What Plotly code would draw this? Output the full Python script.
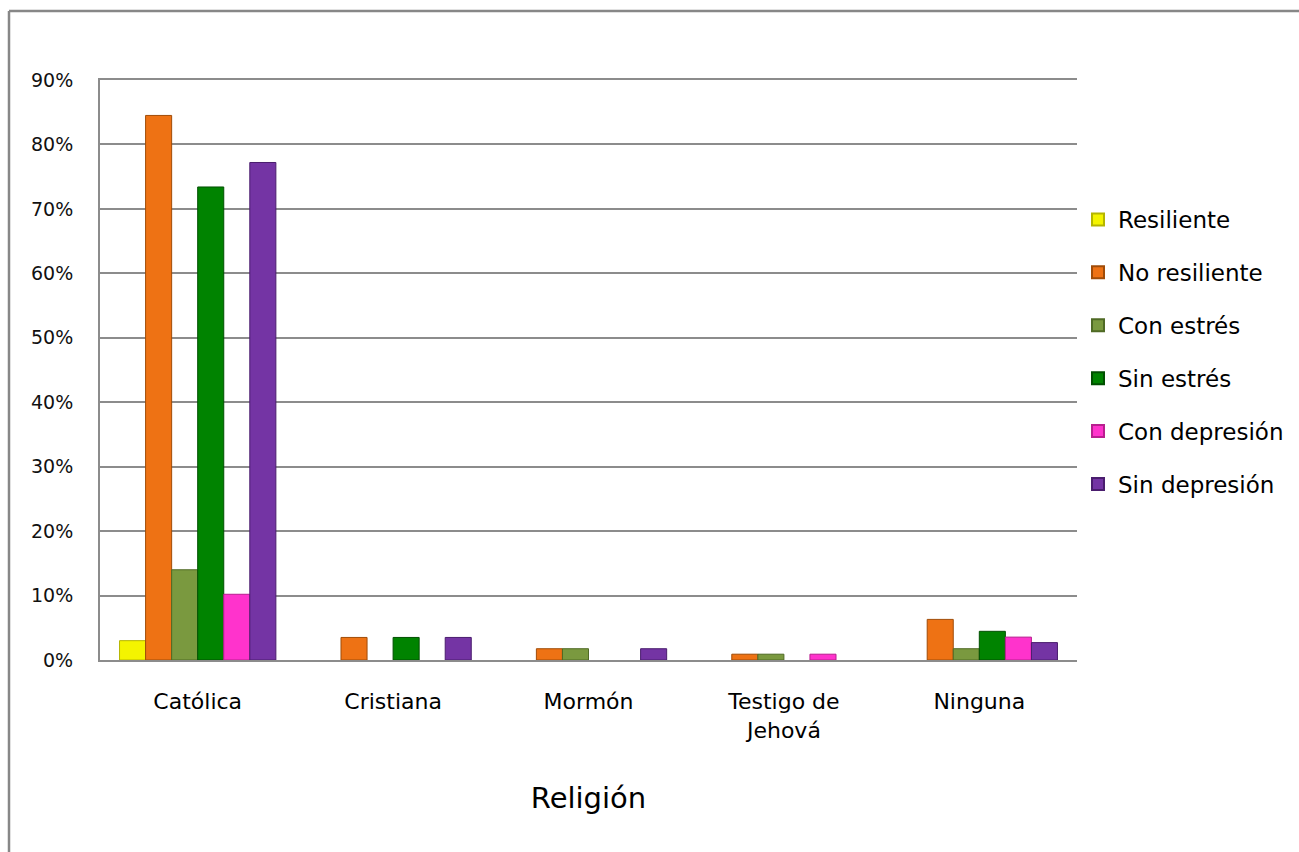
import plotly.graph_objects as go

# Religion categories on the x axis
categories = ["Católica", "Cristiana", "Mormón", "Testigo de<br>Jehová", "Ninguna"]

# Percentage of each group by religion (None = no bar)
resiliente = [3.0, None, None, None, None]
no_resiliente = [84.5, 3.5, 1.75, 0.9, 6.3]
con_estres = [14.0, None, 1.75, 0.9, 1.75]
sin_estres = [73.4, 3.5, None, None, 4.45]
con_depresion = [10.2, None, None, 0.9, 3.55]
sin_depresion = [77.2, 3.5, 1.75, None, 2.7]

series_names = ["Resiliente", "No resiliente", "Con estrés", "Sin estrés",
                "Con depresión", "Sin depresión"]
series_values = [resiliente, no_resiliente, con_estres, sin_estres,
                 con_depresion, sin_depresion]

y_ticks = [0, 10, 20, 30, 40, 50, 60, 70, 80, 90]
y_tick_labels = ["0%", "10%", "20%", "30%", "40%", "50%", "60%", "70%", "80%", "90%"]

fill_colors = ["#F4F400", "#EE7214", "#7A993F", "#008300", "#FF33CC", "#7434A4"]
edge_colors = ["#B5B500", "#A04C08", "#4F6A25", "#004F00", "#B81F8F", "#4A1D6E"]

W, H = 1299, 852
plot_left, plot_right, plot_top, plot_bottom = 100, 1077, 80, 660

fig = go.Figure()
for i, (name, vals) in enumerate(zip(series_names, series_values)):
    fig.add_trace(go.Bar(
        name=name,
        x=categories,
        y=vals,
        marker=dict(color=fill_colors[i],
                    line=dict(color=edge_colors[i], width=1)),
        legendgroup=name,
    ))

pw = plot_right - plot_left
ph = plot_bottom - plot_top


def px_to_paper_x(px):
    return (px - plot_left) / pw


def px_to_paper_y(py):
    return (plot_bottom - py) / ph


# Outer chart frame (open to the right and bottom)
border = "#878787"
fig.add_shape(type="line", xref="paper", yref="paper",
              x0=px_to_paper_x(9), x1=px_to_paper_x(W + 5),
              y0=px_to_paper_y(11), y1=px_to_paper_y(11),
              line=dict(color=border, width=2.5))
fig.add_shape(type="line", xref="paper", yref="paper",
              x0=px_to_paper_x(9), x1=px_to_paper_x(9),
              y0=px_to_paper_y(11), y1=px_to_paper_y(H + 5),
              line=dict(color=border, width=2.5))

grid = "#8C8C8C"
fig.update_layout(
    width=W, height=H,
    margin=dict(l=plot_left, r=W - plot_right, t=plot_top, b=H - plot_bottom,
                autoexpand=False),
    paper_bgcolor="white", plot_bgcolor="white",
    barmode="group", bargap=0.2, bargroupgap=0,
    font=dict(family="DejaVu Sans", color="#000000"),
    showlegend=True,
    legend=dict(x=px_to_paper_x(1078), xanchor="left",
                y=px_to_paper_y(352), yanchor="middle",
                font=dict(size=23, family="DejaVu Sans"),
                tracegroupgap=20, itemsizing="constant",
                bgcolor="rgba(0,0,0,0)"),
    xaxis=dict(
        showline=True, mirror=True, linecolor=grid, linewidth=2,
        showgrid=False, ticks="",
        ticklabelstandoff=21,
        tickfont=dict(size=22, family="DejaVu Sans"),
        title=dict(text="Religión", font=dict(size=29, family="DejaVu Sans"),
                   standoff=46),
    ),
    yaxis=dict(
        range=[0, 90], tickvals=y_ticks, ticktext=y_tick_labels,
        showgrid=True, gridcolor=grid, gridwidth=2,
        zeroline=False, showline=True, linecolor=grid, linewidth=2,
        ticks="", ticklabelstandoff=21,
        tickfont=dict(size=19, family="DejaVu Sans", color="#111111"),
    ),
)

fig.write_html("out.html")
